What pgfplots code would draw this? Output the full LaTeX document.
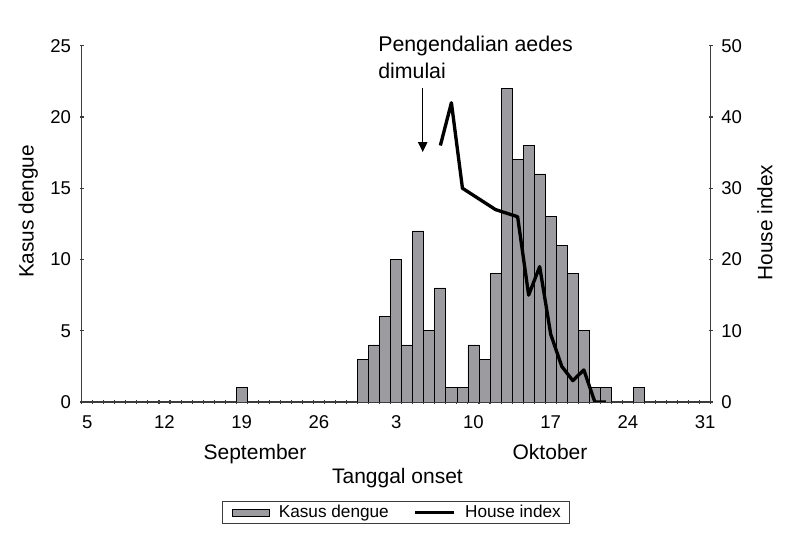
\documentclass[border=0pt]{standalone}
\usepackage{fontspec}
\setmainfont{Liberation Sans}
\usepackage{pgfplots}
\usepackage{pgfplotstable}
\pgfplotsset{compat=1.18}
\usetikzlibrary{arrows.meta}

\definecolor{barfill}{RGB}{155,155,160}
\definecolor{axisgray}{RGB}{60,60,60}

% day index: 0 = 5 September, 26 = 1 Oktober
\pgfplotstableread{
x y
14 1
25 3
26 4
27 6
28 10
29 4
30 12
31 5
32 8
33 1
34 1
35 4
36 3
37 9
38 22
39 17
40 18
41 16
42 13
43 11
44 9
45 5
46 1
47 1
50 1
}\kasus

\pgfplotstableread{
x y
32 36
33 42
34 30
35 29
36 28
37 27
38 26.5
39 26
40 15
41 19
42 9.5
43 5
44 3
45 4.5
46 0
47 0
}\house

\pgfplotsset{
  common/.style={
    at={(61.3pt,99pt)}, anchor=south west, scale only axis,
    width=471.75pt, height=267.2pt,
    xmin=-0.5, xmax=56.5,
    tick style={axisgray, line width=0.8pt},
    tick align=outside, major tick length=3pt,
    ticklabel style={font=\fontsize{13.9}{16}\selectfont, text=black},
    /pgf/number format/assume math mode=true,
  },
  nolinetips/.style={
    axis line style={-, axisgray, line width=0.9pt},
    every outer x axis line/.append style={-},
    every outer y axis line/.append style={-},
    every inner x axis line/.append style={-},
    every inner y axis line/.append style={-},
  },
  barleg/.style={legend image code/.code={
    \draw[fill=barfill, draw=black, line width=0.6pt] (0pt,-2.6pt) rectangle (27.75pt,2.6pt);}},
  lineleg/.style={legend image code/.code={
    \draw[black, line width=2.5pt] (0pt,0pt) -- (29pt,0pt);}},
}

\begin{document}
\begin{tikzpicture}
\path[use as bounding box] (0,0) rectangle (600pt,400.5pt);

\begin{axis}[common,
  ybar, bar width=1,
  axis x line=bottom, axis y line=left, nolinetips,
  ymin=0, ymax=25, ytick={0,5,...,25},
  yticklabel style={xshift=-3pt},
  xtick={-0.5,0.5,...,56.5}, xticklabels={,,},
  extra x ticks={0,7,...,56},
  extra x tick labels={5,12,19,26,3,10,17,24,31},
  extra x tick style={major tick length=0pt,
    xticklabel style={anchor=base, yshift=-19.7pt}},
]
\addplot[fill=barfill, draw=black, line width=0.6pt] table {\kasus};
\draw[black, line width=1.1pt, -{Triangle[length=7.5pt, width=7pt]}]
  (axis cs:30.4,22.04) -- (axis cs:30.4,17.54);
\end{axis}

\begin{axis}[common,
  axis x line=none, axis y line=right, nolinetips,
  ymin=0, ymax=50, ytick={0,10,...,50},
  yticklabel style={xshift=3pt},
  legend columns=2,
  legend style={at={(0.5,-0.31)}, anchor=center,
    draw=axisgray, line width=0.6pt, fill=white,
    font=\fontsize{12.9}{15}\selectfont,
    inner xsep=6.75pt, inner ysep=3pt,
    nodes={inner sep=0pt},
    /tikz/every odd column/.append style={column sep=7pt},
    /tikz/every even column/.append style={column sep=18.75pt}},
]
\addlegendimage{barleg}
\addlegendentry{Kasus dengue}
\addplot[black, line width=2.5pt, line join=round, mark=none, forget plot] table {\house};
\addlegendimage{lineleg}
\addlegendentry{House index\hspace{12pt}}
\end{axis}

\node[anchor=north west, inner sep=0pt, align=left, font=\fontsize{16}{20}\selectfont]
  at (283.5pt,373.35pt) {Pengendalian aedes\\dimulai};
\node[rotate=90, inner sep=0pt, font=\fontsize{15.6}{18}\selectfont] at (21.2pt,241.9pt) {Kasus dengue};
\node[rotate=90, inner sep=0pt, font=\fontsize{15.6}{18}\selectfont] at (573.75pt,233.6pt) {House index};
\node[anchor=base, inner sep=0pt, font=\fontsize{15.75}{18}\selectfont] at (191.25pt,56pt) {September};
\node[anchor=base, inner sep=0pt, font=\fontsize{15.75}{18}\selectfont] at (412.5pt,56pt) {Oktober};
\node[anchor=base, inner sep=0pt, font=\fontsize{15.75}{18}\selectfont] at (298.1pt,38pt) {Tanggal onset};
\end{tikzpicture}
\end{document}
